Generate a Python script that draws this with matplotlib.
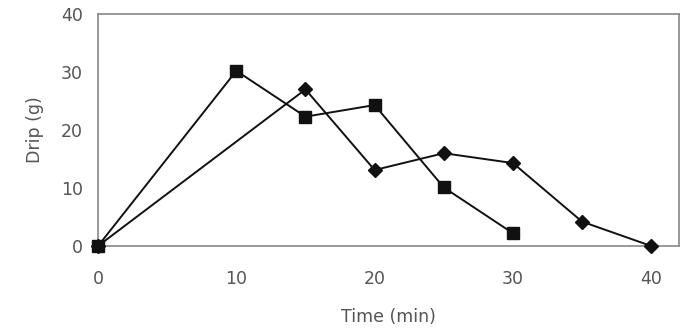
import matplotlib
matplotlib.use("Agg")
import matplotlib.pyplot as plt

time_sq = [0, 10, 15, 20, 25, 30]
drip_sq = [0, 30.2, 22.3, 24.3, 10.1, 2.2]
time_di = [0, 15, 20, 25, 30, 35, 40]
drip_di = [0, 27.0, 13.1, 16.0, 14.3, 4.2, 0]
xticks = [0, 10, 20, 30, 40]
yticks = [0, 10, 20, 30, 40]

fig = plt.figure(figsize=(6.83, 3.30), dpi=100)
ax = fig.add_axes([0.1435, 0.2545, 0.8505, 0.7031])
ax.plot(time_sq, drip_sq, color="#111111", lw=1.4, marker="s", ms=8.5, clip_on=False, zorder=3)
ax.plot(time_di, drip_di, color="#111111", lw=1.4, marker="D", ms=7.5, clip_on=False, zorder=3)
ax.set_xlim(0, 42)
ax.set_ylim(0, 40)
ax.set_xticks(xticks)
ax.set_yticks(yticks)
ax.tick_params(length=0, labelsize=12.5, colors="#555555")
ax.tick_params(axis="x", pad=17)
ax.tick_params(axis="y", pad=11)
for s in ax.spines.values():
    s.set_color("#888888")
    s.set_linewidth(1.2)
ax.set_xlabel("Time (min)", fontsize=12.5, color="#555555", labelpad=15)
ax.set_ylabel("Drip (g)", fontsize=12.5, color="#555555", labelpad=12)
fig.savefig("out.png", dpi=100)
